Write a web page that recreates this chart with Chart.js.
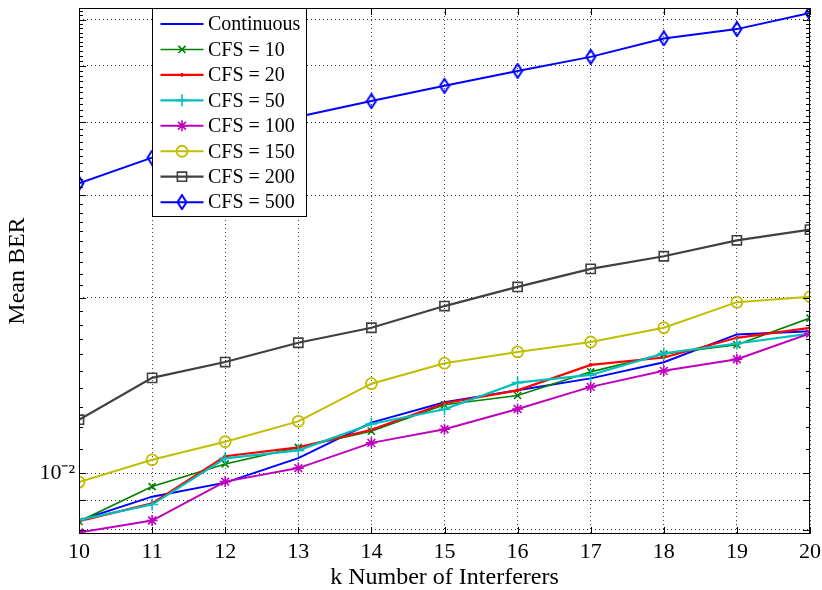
<!DOCTYPE html>
<html><head><meta charset="utf-8">
<script src="https://cdn.jsdelivr.net/npm/chart.js@4.4.0/dist/chart.umd.min.js"></script>
<style>html,body{margin:0;padding:0;background:#fff}#wrap{width:822px;height:590px;position:relative}</style>
</head><body><div id="wrap"><canvas id="c" width="822" height="590"></canvas></div>
<script>
const kValues = [10, 11, 12, 13, 14, 15, 16, 17, 18, 19, 20];
const berContinuous = [0.0083, 0.00912, 0.00964, 0.01062, 0.01222, 0.01324, 0.01389, 0.01455, 0.01551, 0.01731, 0.01752];
const berCFS10  = [0.00827, 0.00949, 0.01038, 0.01108, 0.01181, 0.01311, 0.0136, 0.01493, 0.01602, 0.01662, 0.01846];
const berCFS20  = [0.00828, 0.00888, 0.0107, 0.01108, 0.01188, 0.01319, 0.01388, 0.01535, 0.0158, 0.01708, 0.01777];
const berCFS50  = [0.00832, 0.00884, 0.01061, 0.01095, 0.01215, 0.01288, 0.01431, 0.01475, 0.01606, 0.0167, 0.01737];
const berCFS100 = [0.00792, 0.0083, 0.00968, 0.01021, 0.01128, 0.0119, 0.01289, 0.01407, 0.01499, 0.01569, 0.01737];
const berCFS150 = [0.00966, 0.01055, 0.01133, 0.01228, 0.01425, 0.01545, 0.01615, 0.0168, 0.01777, 0.01966, 0.02008];
const berCFS200 = [0.01236, 0.01458, 0.01552, 0.01675, 0.01777, 0.01936, 0.02088, 0.02242, 0.02357, 0.0251, 0.02618];
const berCFS500 = [0.03143, 0.0348, 0.038, 0.0409, 0.0435, 0.0462, 0.049, 0.0518, 0.0557, 0.0578, 0.0616];
const seriesLabels = ['Continuous', 'CFS = 10', 'CFS = 20', 'CFS = 50', 'CFS = 100', 'CFS = 150', 'CFS = 200', 'CFS = 500'];
const yGridValues = [0.008, 0.009, 0.01, 0.02, 0.03, 0.04, 0.05, 0.06];
const yMinorValues = [0.011,0.012,0.013,0.014,0.015,0.016,0.017,0.018,0.019,0.021,0.022,0.023,0.024,0.025,0.026,0.027,0.028,0.029,0.031,0.032,0.033,0.034,0.035,0.036,0.037,0.038,0.039,0.041,0.042,0.043,0.044,0.045,0.046,0.047,0.048,0.049,0.051,0.052,0.053,0.054,0.055,0.056,0.057,0.058,0.059,0.061,0.062];
const yTickLabel = '10\u207B\u00B2';
const xTitle = 'k Number of Interferers';
const yTitle = 'Mean BER';

const FONT = '"Liberation Serif", "Times New Roman", serif';

function makeDiamond(color) {
  const c = document.createElement('canvas');
  c.width = 12; c.height = 16;
  const g = c.getContext('2d');
  g.strokeStyle = color; g.lineWidth = 2;
  g.beginPath(); g.moveTo(6, 1); g.lineTo(10.5, 8); g.lineTo(6, 15); g.lineTo(1.5, 8); g.closePath(); g.stroke();
  return c;
}
const diamond = makeDiamond('#0000FF');

const seriesData = [berContinuous, berCFS10, berCFS20, berCFS50, berCFS100, berCFS150, berCFS200, berCFS500];
const seriesStyle = [
  {color: '#0000FF', style: 'circle', radius: 0, width: 2, pbw: 0, fill: false},
  {color: '#008000', style: 'crossRot', radius: 5, width: 1.6, pbw: 1.6, fill: false},
  {color: '#FF0000', style: 'circle', radius: 1.5, width: 2.2, pbw: 1, fill: true},
  {color: '#00BFBF', style: 'cross', radius: 6, width: 2.2, pbw: 1.6, fill: false},
  {color: '#BF00BF', style: 'star', radius: 5.5, width: 2, pbw: 1.6, fill: false},
  {color: '#BFBF00', style: 'circle', radius: 5.5, width: 2, pbw: 1.8, fill: false},
  {color: '#404040', style: 'rect', radius: 6.5, width: 2.2, pbw: 1.6, fill: false},
  {color: '#0000FF', style: diamond, radius: 6, width: 2, pbw: 2, fill: false}
];

const datasets = seriesData.map((arr, i) => {
  const s = seriesStyle[i];
  const bg = s.fill ? s.color : 'rgba(0,0,0,0)';
  return {
    label: seriesLabels[i],
    data: kValues.map((k, j) => ({x: k, y: arr[j]})),
    borderColor: s.color,
    backgroundColor: bg,
    pointBorderColor: s.color,
    pointBackgroundColor: bg,
    pointStyle: s.style,
    pointRadius: s.radius,
    pointHoverRadius: s.radius,
    pointBorderWidth: s.pbw,
    borderWidth: s.width,
    tension: 0,
    order: -i
  };
});

const frameAndLegend = {
  id: 'frameAndLegend',
  afterDraw(chart) {
    const {ctx, chartArea: a, scales} = chart;
    ctx.save();
    ctx.strokeStyle = '#000';
    ctx.lineWidth = 1;
    ctx.setLineDash([]);
    ctx.beginPath();
    kValues.forEach(k => {
      const x = Math.round(scales.x.getPixelForValue(k)) + 0.5;
      ctx.moveTo(x, a.bottom); ctx.lineTo(x, a.bottom - 7);
      ctx.moveTo(x, a.top); ctx.lineTo(x, a.top + 7);
    });
    yGridValues.forEach(v => {
      const y = Math.round(scales.y.getPixelForValue(v)) + 0.5;
      ctx.moveTo(a.left, y); ctx.lineTo(a.left + 7, y);
      ctx.moveTo(a.right, y); ctx.lineTo(a.right - 7, y);
    });
    yMinorValues.forEach(v => {
      const y = Math.round(scales.y.getPixelForValue(v)) + 0.5;
      ctx.moveTo(a.left, y); ctx.lineTo(a.left + 4, y);
      ctx.moveTo(a.right, y); ctx.lineTo(a.right - 4, y);
    });
    ctx.stroke();
    ctx.strokeRect(Math.round(a.left) + 0.5, Math.round(a.top) + 0.5, Math.round(a.width) - 1, Math.round(a.height) - 1);

    // legend box
    const lx = Math.round(a.left) + 73.5, ly = Math.round(a.top) + 0.5, lw = 154, lh = 208;
    ctx.fillStyle = '#fff';
    ctx.fillRect(lx, ly, lw, lh);
    ctx.strokeStyle = '#000';
    ctx.lineWidth = 1;
    ctx.strokeRect(lx, ly, lw, lh);
    chart.data.datasets.forEach((ds, i) => {
      const y = ly + 15.5 + i * 25.45;
      ctx.strokeStyle = ds.borderColor;
      ctx.lineWidth = ds.borderWidth;
      ctx.beginPath(); ctx.moveTo(lx + 8, y); ctx.lineTo(lx + 51, y); ctx.stroke();
      if (ds.pointRadius > 0) {
        ctx.fillStyle = ds.pointBackgroundColor;
        ctx.strokeStyle = ds.pointBorderColor;
        ctx.lineWidth = ds.pointBorderWidth;
        Chart.helpers.drawPoint(ctx, {
          pointStyle: ds.pointStyle, radius: ds.pointRadius, rotation: 0, borderWidth: ds.pointBorderWidth
        }, lx + 29.5, y);
      }
      ctx.fillStyle = '#000';
      ctx.font = '20px ' + FONT;
      ctx.textBaseline = 'middle';
      ctx.textAlign = 'left';
      ctx.fillText(ds.label, lx + 55.5, y + 1);
    });
    ctx.restore();
  }
};

new Chart(document.getElementById('c'), {
  type: 'line',
  data: {datasets},
  options: {
    responsive: false,
    animation: false,
    events: [],
    layout: {padding: {top: 6, right: 12, left: 0, bottom: 0}},
    plugins: {legend: {display: false}, tooltip: {enabled: false}},
    scales: {
      x: {
        type: 'linear', min: 10, max: 20,
        afterFit: s => { s.height = 56; s.paddingLeft = 0; s.paddingRight = 0; },
        afterBuildTicks: s => { s.ticks = kValues.map(v => ({value: v})); },
        border: {display: false, dash: [1, 3]},
        grid: {color: 'rgba(0,0,0,0.8)', drawTicks: false, lineWidth: 1},
        ticks: {color: '#000', font: {family: FONT, size: 22}, padding: 5, maxRotation: 0, autoSkip: false},
        title: {display: true, text: xTitle, color: '#000', font: {family: FONT, size: 24, lineHeight: 1}, padding: 0}
      },
      y: {
        type: 'logarithmic', min: 0.00787, max: 0.0628,
        afterFit: s => { s.width = 79; s.paddingTop = 0; s.paddingBottom = 0; },
        afterBuildTicks: s => { s.ticks = yGridValues.map(v => ({value: v})); },
        border: {display: false, dash: [1, 3]},
        grid: {color: 'rgba(0,0,0,0.8)', drawTicks: false, lineWidth: 1},
        ticks: {color: '#000', font: {family: FONT, size: 22}, padding: 4, autoSkip: false,
          callback: v => (Math.abs(v - 0.01) < 1e-9 ? yTickLabel : '')},
        title: {display: true, text: yTitle, color: '#000', font: {family: FONT, size: 24, lineHeight: 1}, padding: {top: 6, bottom: 0}}
      }
    }
  },
  plugins: [frameAndLegend]
});
</script>
</body></html>
